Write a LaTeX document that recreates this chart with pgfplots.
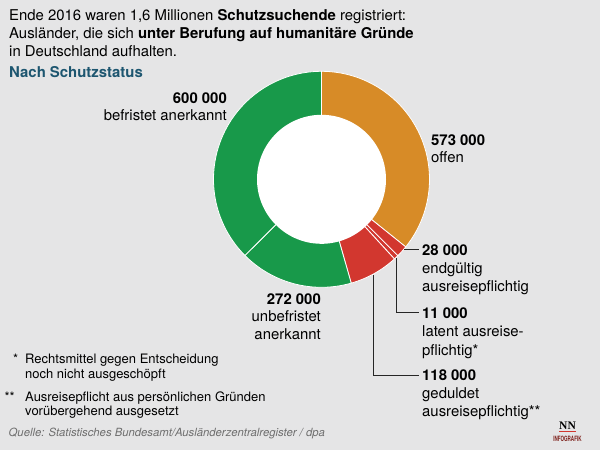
\documentclass[border=0pt]{standalone}
\usepackage{fontspec}
\setmainfont{TeX Gyre Heros}
\newfontfamily\logofont{Liberation Serif}
\usepackage{pgfplots}
\pgfplotsset{compat=1.18}

\definecolor{bg}{HTML}{E5E5E6}
\definecolor{nngreen}{HTML}{18994A}
\definecolor{nnorange}{HTML}{D78B27}
\definecolor{nnred}{HTML}{D2372F}
\definecolor{nnteal}{HTML}{1D5670}
\definecolor{srcgray}{HTML}{6E6E6E}

\tikzset{
  lab/.style={font=\fontsize{14.9}{17}\selectfont, inner sep=0pt},
  foot/.style={font=\fontsize{13}{15}\selectfont, inner sep=0pt},
}

% Schutzsuchende in Tausend
\def\vOffen{573}
\def\vEnd{28}
\def\vLat{11}
\def\vGed{118}
\def\vUnb{272}
\def\vBef{600}
\pgfmathsetmacro\tot{\vOffen+\vEnd+\vLat+\vGed+\vUnb+\vBef}
\pgfmathsetmacro\aA{90}
\pgfmathsetmacro\aB{\aA-360*(\vOffen/\tot)}
\pgfmathsetmacro\aC{\aB-360*(\vEnd/\tot)}
\pgfmathsetmacro\aD{\aC-360*(\vLat/\tot)}
\pgfmathsetmacro\aE{\aD-360*(\vGed/\tot)}
\pgfmathsetmacro\aF{\aE-360*(\vUnb/\tot)}
\pgfmathsetmacro\aG{\aF-360*(\vBef/\tot)}

\def\cx{321.5}
\def\cy{179.3}
\def\R{108}
\def\r{64.5}

\newcommand\donutpart[3]{%
  \addplot[fill=#3, draw=white, line width=0.8pt, variable=\t,
    domain=#2:#1, samples=80]
    ({\cx+\R*cos(\t)},{\cy-\R*sin(\t)}) -- (axis cs:\cx,\cy) -- cycle;}

\begin{document}
\begin{tikzpicture}
\begin{axis}[
    width=600pt, height=450pt,
    scale only axis,
    xmin=0, xmax=600,
    ymin=0, ymax=450,
    y dir=reverse,
    axis lines=none,
    ticks=none,
    axis background/.style={fill=bg},
    clip=false,
]
\donutpart{\aA}{\aB}{nnorange}
\donutpart{\aB}{\aC}{nnred}
\donutpart{\aC}{\aD}{nnred}
\donutpart{\aD}{\aE}{nnred}
\donutpart{\aE}{\aF}{nngreen}
\donutpart{\aF}{\aG}{nngreen}
\addplot[fill=white, draw=none, variable=\t, domain=0:360, samples=120]
    ({\cx+\r*cos(\t)},{\cy-\r*sin(\t)}) -- cycle;

% title
\node[lab, anchor=base west] at (axis cs:9,20) {Ende 2016 waren 1,6 Millionen \textbf{Schutzsuchende} registriert:};
\node[lab, anchor=base west] at (axis cs:9,38.3) {Ausländer, die sich \textbf{unter Berufung auf humanitäre Gründe}};
\node[lab, anchor=base west] at (axis cs:9,56.6) {in Deutschland aufhalten.};
\node[lab, anchor=base west, text=nnteal] at (axis cs:9,77) {\textbf{Nach Schutzstatus}};

% labels
\node[lab, anchor=base east] at (axis cs:227,103.3) {\textbf{600 000}};
\node[lab, anchor=base east] at (axis cs:227,120.8) {befristet anerkannt};

\node[lab, anchor=base west] at (axis cs:431,145) {\textbf{573 000}};
\node[lab, anchor=base west] at (axis cs:431,162.5) {offen};

\node[lab, anchor=base east] at (axis cs:321,304) {\textbf{272 000}};
\node[lab, anchor=base east] at (axis cs:321,321.7) {unbefristet};
\node[lab, anchor=base east] at (axis cs:321,339.3) {anerkannt};

\node[lab, anchor=base west] at (axis cs:422,255) {\textbf{28 000}};
\node[lab, anchor=base west] at (axis cs:422,273.5) {endgültig};
\node[lab, anchor=base west] at (axis cs:422,291.5) {ausreisepflichtig};

\node[lab, anchor=base west] at (axis cs:422,318.3) {\textbf{11 000}};
\node[lab, anchor=base west] at (axis cs:422,336.7) {latent ausreise-};
\node[lab, anchor=base west] at (axis cs:422,355) {pflichtig*};

\node[lab, anchor=base west] at (axis cs:422,380) {\textbf{118 000}};
\node[lab, anchor=base west] at (axis cs:422,398.5) {geduldet};
\node[lab, anchor=base west] at (axis cs:422,416.7) {ausreisepflichtig**};

% leader lines
\draw[black!85, line width=0.9pt] (axis cs:404,249.3) -- (axis cs:419,249.3);
\draw[black!85, line width=0.9pt] (axis cs:396,258) |- (axis cs:419,312.3);
\draw[black!85, line width=0.9pt] (axis cs:373.5,275) |- (axis cs:419,375);

% footnotes
\node[foot, anchor=base east] at (axis cs:18.5,363.7) {*};
\node[foot, anchor=base west] at (axis cs:25,363.7) {Rechtsmittel gegen Entscheidung};
\node[foot, anchor=base west] at (axis cs:25,378.3) {noch nicht ausgeschöpft};
\node[foot, anchor=base east] at (axis cs:15,401) {**};
\node[foot, anchor=base west] at (axis cs:25,401) {Ausreisepflicht aus persönlichen Gründen};
\node[foot, anchor=base west] at (axis cs:25,415.7) {vorübergehend ausgesetzt};

% source
\node[anchor=base west, inner sep=0pt, text=srcgray, font=\fontsize{11.3}{13}\selectfont\itshape]
  at (axis cs:8.5,436.5) {Quelle: Statistisches Bundesamt/Ausländerzentralregister / dpa};

% logo
\node[anchor=base, inner sep=0pt, font=\logofont\bfseries\fontsize{11.5}{12}\selectfont]
  at (axis cs:567.5,429.3) {NN};
\draw[nnred, line width=1pt] (axis cs:559,431.7) -- (axis cs:576,431.7);
\node[anchor=base, inner sep=0pt, text=nnred!60!black, font=\bfseries\fontsize{7.3}{8}\selectfont]
  at (axis cs:567.5,441.7) {\scalebox{0.62}[1]{INFOGRAFIK}};
\end{axis}
\end{tikzpicture}
\end{document}
